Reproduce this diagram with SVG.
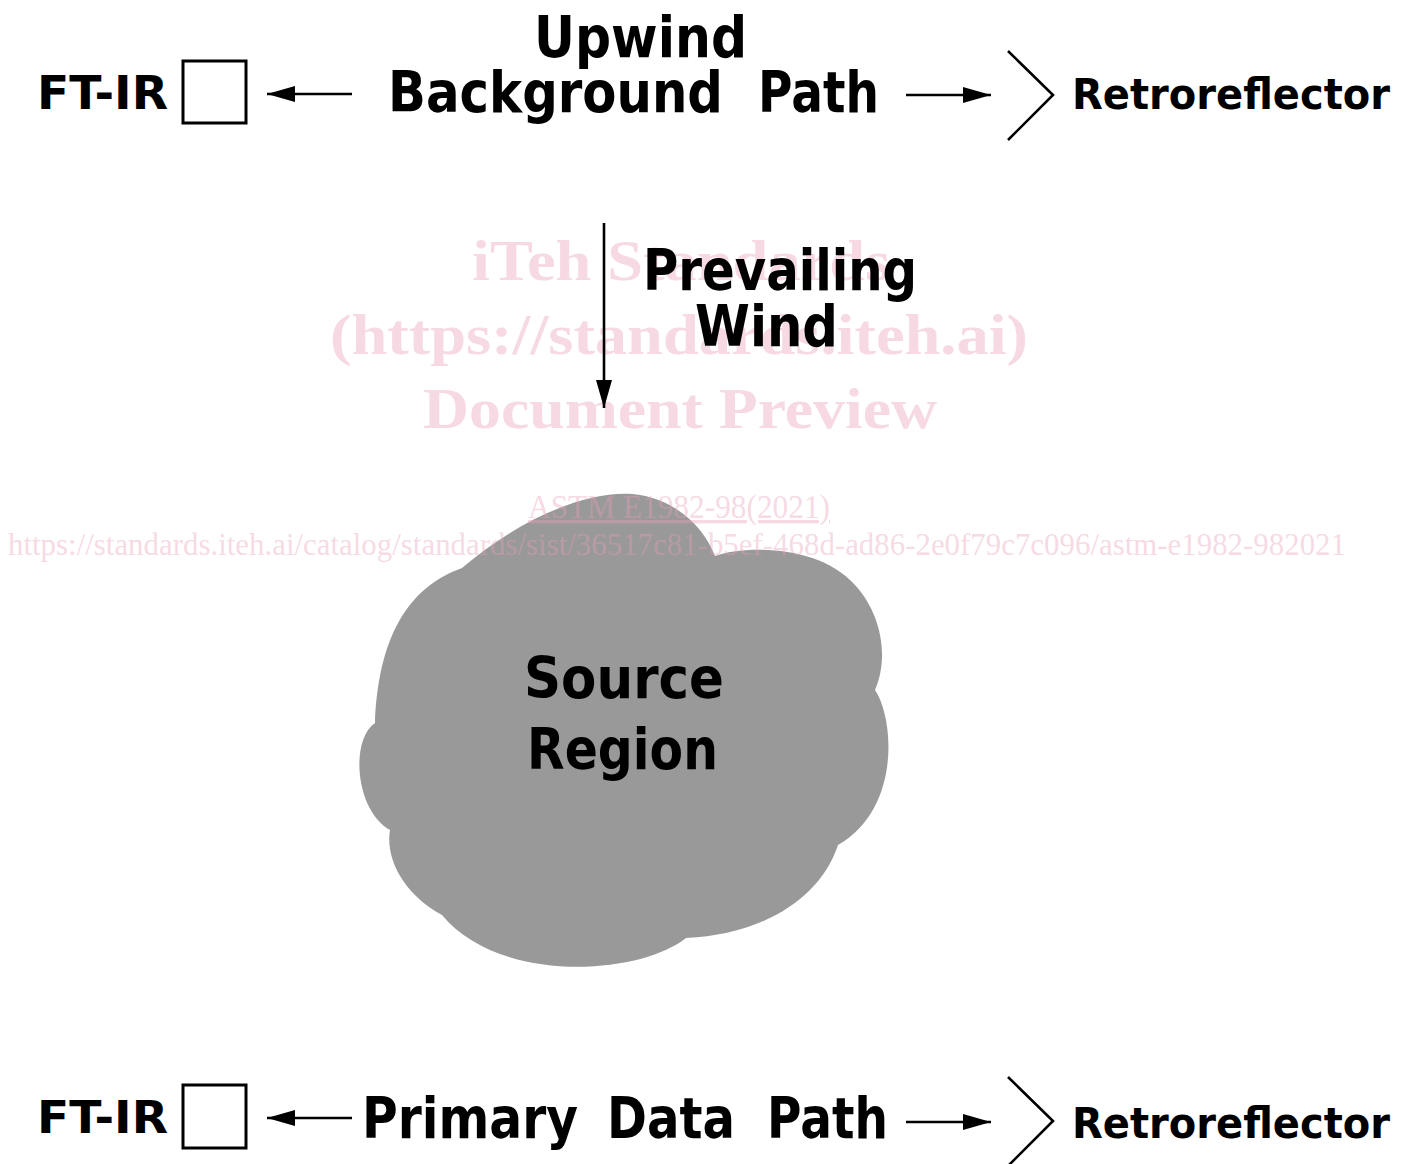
<svg xmlns="http://www.w3.org/2000/svg" width="1410" height="1164" viewBox="0 0 1410 1164">
  <defs>
    <style>
      .lbl { font-family: "DejaVu Sans", "Liberation Sans", sans-serif; font-weight: bold; fill: #000; }
      .wm { font-family: "Liberation Serif", "DejaVu Serif", serif; fill: #e8a0b8; fill-opacity: 0.4; }
      .wmb { font-weight: bold; }
      .ln { stroke: #000; stroke-width: 2.6; fill: none; }
      .box { stroke: #000; stroke-width: 3; fill: #fff; }
    </style>
    <marker id="head" viewBox="0 0 28 16" refX="28" refY="8" markerWidth="28" markerHeight="16" markerUnits="userSpaceOnUse" orient="auto">
      <path d="M0,0 L28,8 L0,16 Z" fill="#000"/>
    </marker>
  </defs>
  <rect width="1410" height="1164" fill="#fff"/>

  <!-- source cloud -->
  <g id="source-region">
    <path fill="#999999" d="M462,568 C530,510 600,488 640,495 C680,502 705,530 715,556 C745,545 820,545 855,585 C880,612 890,655 875,690 C895,720 900,810 838,845 C820,900 760,935 686,938 C640,975 500,985 442,915 C405,895 385,860 390,830 C355,810 350,740 375,723 C378,650 400,590 462,568 Z"/>
    <text class="lbl" x="524" y="698" font-size="57" textLength="200" lengthAdjust="spacingAndGlyphs">Source</text>
    <text class="lbl" x="527" y="769" font-size="57" textLength="191" lengthAdjust="spacingAndGlyphs">Region</text>
  </g>

  <!-- document stamp -->
  <g id="stamp">
    <text class="wm wmb" x="472" y="280" font-size="58" textLength="418" lengthAdjust="spacingAndGlyphs">iTeh Standards</text>
    <text class="wm wmb" x="330" y="354" font-size="58" textLength="698" lengthAdjust="spacingAndGlyphs">(https://standards.iteh.ai)</text>
    <text class="wm wmb" x="423" y="428" font-size="58" textLength="514" lengthAdjust="spacingAndGlyphs">Document Preview</text>
    <text class="wm" x="528" y="518" font-size="34" text-decoration="underline" textLength="302" lengthAdjust="spacingAndGlyphs">ASTM E1982-98(2021)</text>
    <text class="wm" x="8" y="555" font-size="32" textLength="1338" lengthAdjust="spacingAndGlyphs">https://standards.iteh.ai/catalog/standards/sist/36517c81-b5ef-468d-ad86-2e0f79c7c096/astm-e1982-982021</text>
  </g>

  <!-- upwind background path -->
  <g id="ftir-upwind">
    <text class="lbl" x="37" y="109" font-size="46" textLength="131" lengthAdjust="spacingAndGlyphs">FT-IR</text>
    <rect class="box" x="183" y="61" width="63" height="62"/>
  </g>
  <g id="label-upwind">
    <text class="lbl" x="534" y="57" font-size="57" textLength="213" lengthAdjust="spacingAndGlyphs">Upwind</text>
    <text class="lbl" y="112" font-size="57"><tspan x="388" textLength="335" lengthAdjust="spacingAndGlyphs">Background</tspan><tspan x="758" textLength="121" lengthAdjust="spacingAndGlyphs">Path</tspan></text>
  </g>
  <g id="retro-upwind">
    <polyline class="ln" points="1008,51 1053,95 1008,140"/>
    <text class="lbl" x="1072" y="109" font-size="43" textLength="318" lengthAdjust="spacingAndGlyphs">Retroreflector</text>
  </g>

  <!-- wind label -->
  <g id="label-wind">
    <text class="lbl" x="643" y="290" font-size="57" textLength="274" lengthAdjust="spacingAndGlyphs">Prevailing</text>
    <text class="lbl" x="695" y="346" font-size="57" textLength="143" lengthAdjust="spacingAndGlyphs">Wind</text>
  </g>

  <!-- primary data path -->
  <g id="ftir-primary">
    <text class="lbl" x="37" y="1133" font-size="45" textLength="131" lengthAdjust="spacingAndGlyphs">FT-IR</text>
    <rect class="box" x="183" y="1085" width="63" height="63"/>
  </g>
  <g id="label-primary">
    <text class="lbl" y="1138" font-size="57"><tspan x="362" textLength="216" lengthAdjust="spacingAndGlyphs">Primary</tspan><tspan x="607" textLength="128" lengthAdjust="spacingAndGlyphs">Data</tspan><tspan x="767" textLength="121" lengthAdjust="spacingAndGlyphs">Path</tspan></text>
  </g>
  <g id="retro-primary">
    <polyline class="ln" points="1008,1077 1053,1121 1008,1166"/>
    <text class="lbl" x="1072" y="1138" font-size="43" textLength="318" lengthAdjust="spacingAndGlyphs">Retroreflector</text>
  </g>

  <!-- connectors -->
  <g id="connectors">
    <line class="ln" x1="352" y1="94" x2="267" y2="94" marker-end="url(#head)"/>
    <line class="ln" x1="906" y1="95" x2="991" y2="95" marker-end="url(#head)"/>
    <line class="ln" x1="604" y1="223" x2="604" y2="408" marker-end="url(#head)"/>
    <line class="ln" x1="352" y1="1118" x2="267" y2="1118" marker-end="url(#head)"/>
    <line class="ln" x1="906" y1="1122" x2="991" y2="1122" marker-end="url(#head)"/>
  </g>
</svg>
